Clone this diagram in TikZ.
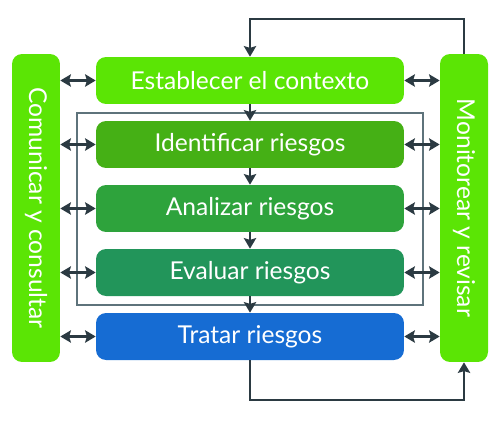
\documentclass[tikz,border=0pt]{standalone}
\usepackage{fontspec}
\setmainfont{Lato}
\usepackage{xcolor}
\usetikzlibrary{arrows.meta,calc,positioning}
\definecolor{verdeClaro}{HTML}{5BE505}
\definecolor{verdeIdent}{HTML}{45B015}
\definecolor{verdeAnal}{HTML}{2EA33C}
\definecolor{verdeEval}{HTML}{22955A}
\definecolor{azulTrat}{HTML}{166CD3}
\definecolor{lineaOsc}{HTML}{2B3A42}
\definecolor{marcoGris}{HTML}{5E737B}

\begin{document}
\begin{tikzpicture}[x=0.02cm,y=-0.02cm,
    paso/.style={rounded corners=0.2cm,minimum width=6.16cm,minimum height=0.94cm,
        inner sep=0pt,text=white,font=\fontsize{14}{16}\selectfont},
    barra/.style={paso,fill=verdeClaro,rotate=-90,minimum width=6.16cm,minimum height=0.96cm},
    flecha/.style={draw=lineaOsc,line width=1.2pt,-{Stealth[length=6pt,width=7pt,inset=1pt]}},
    flechados/.style={draw=lineaOsc,line width=1.2pt,
        {Stealth[length=6pt,width=7pt,inset=1pt]}-{Stealth[length=6pt,width=7pt,inset=1pt]}},
    marco/.style={draw=marcoGris,line width=1.1pt}]
    \useasboundingbox (0,0) rectangle (500,426);
    % Marco de la evaluacion
    \draw[marco] (77,113) rectangle (423,305);
    \node[paso,fill=verdeClaro] (E) at (250,80.5) {Establecer el contexto};
    \node[paso,fill=verdeIdent] (I) at (250,144.5) {Identificar riesgos};
    \node[paso,fill=verdeAnal] (A) at (250,208.5) {Analizar riesgos};
    \node[paso,fill=verdeEval] (V) at (250,272.5) {Evaluar riesgos};
    \node[paso,fill=azulTrat] (T) at (250,336.5) {Tratar riesgos};
    \node[barra] (C) at (36,208) {Comunicar y consultar};
    \node[barra] (M) at (464,208) {Monitorear y revisar};
    \draw[flecha] (E) -- (I);
    \draw[flecha] (I) -- (A);
    \draw[flecha] (A) -- (V);
    \draw[flecha] (V) -- (T);
    \foreach \p in {E,I,A,V,T} {
        \draw[flechados] (\p.west -| C.north) -- (\p.west);
        \draw[flechados] (\p.east) -- (\p.east -| M.south);
    }
    % Lazos de retorno
    \coordinate (arriba) at (250,19);
    \coordinate (abajo) at (250,400);
    \draw[flecha] (M.west) |- (arriba) -- (E.north);
    \draw[flecha] (T.south) -- (abajo) -| (M.east);
\end{tikzpicture}
\end{document}
